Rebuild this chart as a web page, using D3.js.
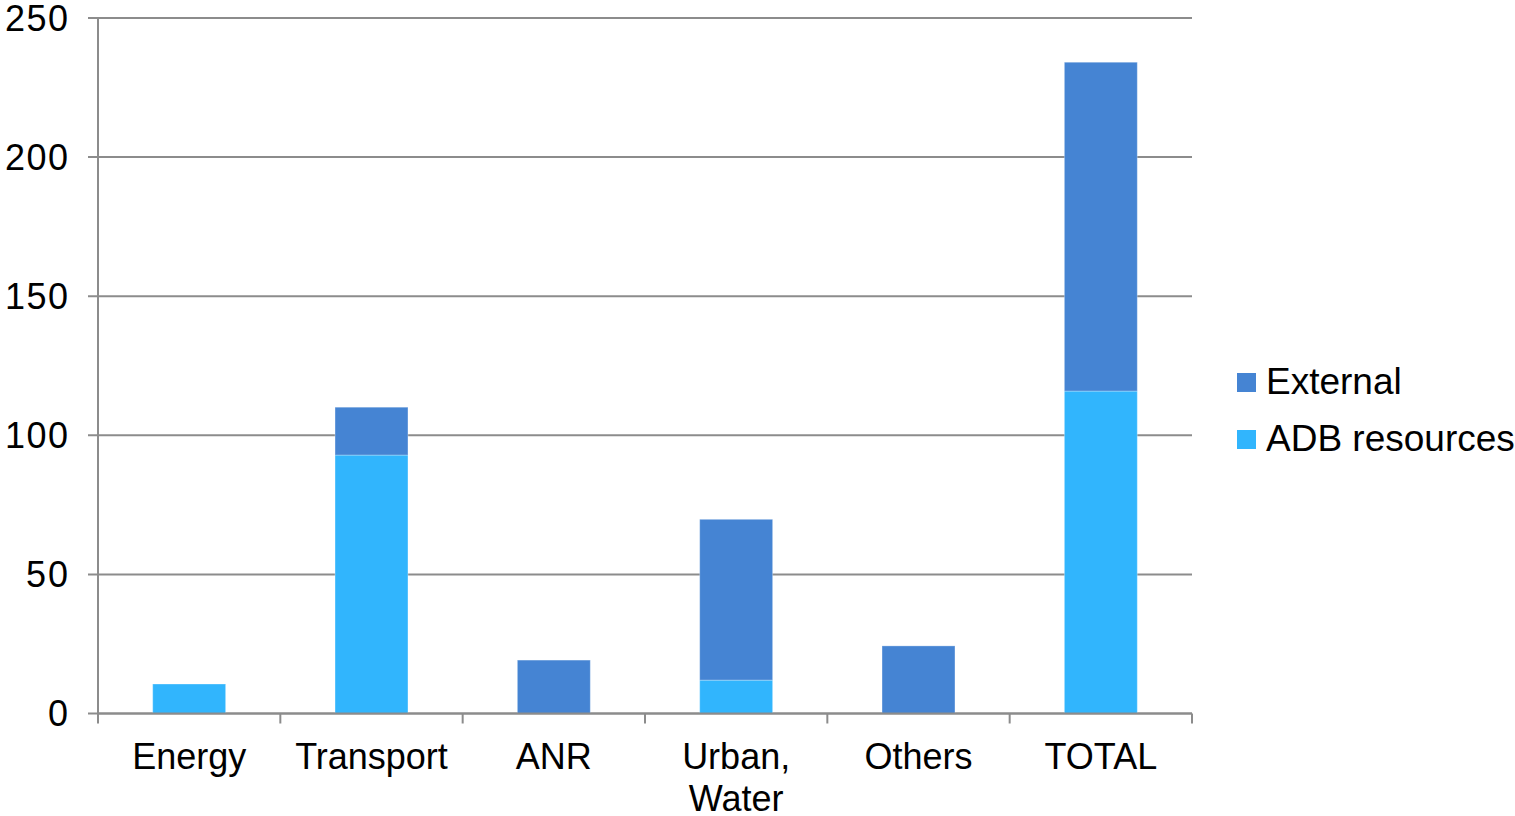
<!DOCTYPE html>
<html>
<head>
<meta charset="utf-8">
<script src="https://cdn.jsdelivr.net/npm/d3@7"></script>
<style>
  body { margin: 0; background: #fff; }
  text { font-family: "Liberation Sans", Arial, sans-serif; fill: #000; }
</style>
</head>
<body>
<div id="chart"></div>
<script>
var categories = ["Energy", "Transport", "ANR", "Urban, Water", "Others", "TOTAL"];
var adbResources = [10.6, 92.9, 0, 12.0, 0, 115.9];
var external = [0, 17.2, 19.2, 57.8, 24.3, 118.2];
var seriesNames = ["ADB resources", "External"];
var yTicks = [0, 50, 100, 150, 200, 250];

var colors = { "External": "#4584d3", "ADB resources": "#31b5fd" };

var svg = d3.select("#chart").append("svg")
    .attr("width", 1515)
    .attr("height", 816);

var x = d3.scaleBand()
    .domain(categories)
    .range([98, 1192])
    .paddingInner(0.6)
    .paddingOuter(0.3);

var y = d3.scaleLinear()
    .domain([0, 250])
    .range([713.5, 18]);

var rows = categories.map(function (c, i) {
    return { cat: c, "ADB resources": adbResources[i], "External": external[i] };
});

// gridlines + y ticks
svg.append("g")
    .selectAll("line")
    .data(yTicks)
    .enter().append("line")
    .attr("x1", 88)
    .attr("x2", 1192)
    .attr("y1", function (d) { return y(d); })
    .attr("y2", function (d) { return y(d); })
    .attr("stroke", "#8c8c8c")
    .attr("stroke-width", 2);

// y axis line
svg.append("line")
    .attr("x1", 98).attr("x2", 98)
    .attr("y1", y(250)).attr("y2", y(0))
    .attr("stroke", "#8c8c8c")
    .attr("stroke-width", 2);

svg.append("g")
    .selectAll("text")
    .data(yTicks)
    .enter().append("text")
    .attr("x", 68)
    .attr("y", function (d) { return y(d); })
    .attr("dy", "0.35em")
    .attr("text-anchor", "end")
    .attr("font-size", 36)
    .attr("textLength", function (d) { return String(d).length * 21; })
    .text(function (d) { return d; });

// stacked bars
var stack = d3.stack().keys(seriesNames)(rows);

svg.append("g")
    .selectAll("g")
    .data(stack)
    .enter().append("g")
    .attr("fill", function (d) { return colors[d.key]; })
    .selectAll("rect")
    .data(function (d) { return d.filter(function (p) { return p[1] > p[0]; }); })
    .enter().append("rect")
    .attr("x", function (d) { return x(d.data.cat); })
    .attr("y", function (d) { return y(d[1]); })
    .attr("height", function (d) { return y(d[0]) - y(d[1]); })
    .attr("width", x.bandwidth())
    .attr("stroke", "rgba(255,255,255,0.3)")
    .attr("stroke-width", 1);

// x axis: boundary ticks
var bounds = d3.range(categories.length + 1).map(function (i) {
    return x.range()[0] + i * x.step();
});

svg.append("line")
    .attr("x1", 98).attr("x2", 1192)
    .attr("y1", y(0)).attr("y2", y(0))
    .attr("stroke", "#8c8c8c")
    .attr("stroke-width", 2);

svg.append("g")
    .selectAll("line")
    .data(bounds)
    .enter().append("line")
    .attr("x1", function (d) { return d; })
    .attr("x2", function (d) { return d; })
    .attr("y1", y(0))
    .attr("y2", y(0) + 10)
    .attr("stroke", "#8c8c8c")
    .attr("stroke-width", 2);

var labels = svg.append("g")
    .selectAll("text")
    .data(categories)
    .enter().append("text")
    .attr("x", function (d) { return x(d) + x.bandwidth() / 2; })
    .attr("y", 769)
    .attr("text-anchor", "middle")
    .attr("font-size", 36);

labels.each(function (d) {
    var parts = d.split(" ");
    var t = d3.select(this);
    parts.forEach(function (p, i) {
        t.append("tspan")
            .attr("x", x(d) + x.bandwidth() / 2)
            .attr("dy", i === 0 ? 0 : 42)
            .text(p);
    });
});

// legend
var legend = svg.append("g")
    .selectAll("g")
    .data(["External", "ADB resources"])
    .enter().append("g")
    .attr("transform", function (d, i) { return "translate(1237," + (373 + i * 57) + ")"; });

legend.append("rect")
    .attr("width", 19)
    .attr("height", 19)
    .attr("fill", function (d) { return colors[d]; });

legend.append("text")
    .attr("x", 29)
    .attr("y", 21)
    .attr("font-size", 37)
    .text(function (d) { return d; });
</script>
</body>
</html>
